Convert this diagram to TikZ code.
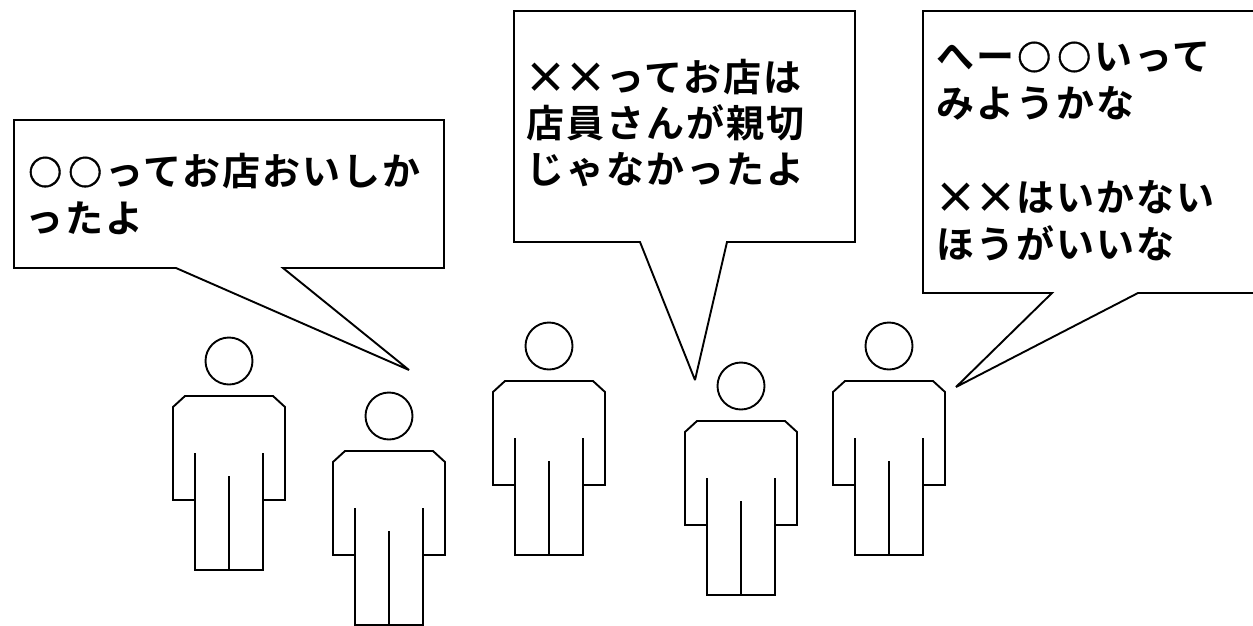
\documentclass[tikz,border=0pt]{standalone}
\usepackage{fontspec}
\setmainfont[BoldFont={Noto Sans CJK JP Bold},LetterSpace=5.3]{Noto Sans CJK JP}
\newfontfamily\markfont[FakeBold=1.2]{Noto Sans CJK JP}
\newcommand{\wideglyph}[1]{\makebox[40pt][c]{\raisebox{-2pt}{\fontsize{43pt}{36pt}\selectfont #1}}}
\newcommand{\ringglyph}{\makebox[40pt][c]{\raisebox{0.5pt}{\markfont\fontsize{34pt}{36pt}\selectfont ○}}}
\tikzset{
  outline/.style={draw=black,line width=1.9pt,line join=miter,miter limit=3,fill=white},
  stroke/.style={draw=black,line width=1.9pt},
  bubbletext/.style={anchor=west,inner sep=0pt,font=\fontsize{38pt}{38pt}\selectfont\bfseries},
  person/.pic={
    \draw[stroke] (0,-35) circle (23.5);
    \draw[outline,fill=none] (-44,0) -- (44,0) -- (56,11) -- (56,104) -- (34,104) -- (34,174) -- (-34,174) -- (-34,104) -- (-56,104) -- (-56,11) -- cycle;
    \draw[stroke] (-34,57) -- (-34,104) (34,57) -- (34,104) (0,80) -- (0,174);
  }
}
\begin{document}
\begin{tikzpicture}[x=1pt,y=-1pt]
\useasboundingbox (0,0) rectangle (1253,625);
\clip (0,0) rectangle (1253,625);
\fill[white] (0,0) rectangle (1253,625);
% bubbles
\draw[outline] (14,120) -- (444,120) -- (444,268) -- (283,268) -- (409,370) -- (176,268) -- (14,268) -- cycle;
\draw[outline] (514,11) -- (855,11) -- (855,242) -- (727,242) -- (695,380) -- (640,242) -- (514,242) -- cycle;
\draw[outline] (923,11) -- (1255,11) -- (1255,293) -- (1138,293) -- (956,387) -- (1052,293) -- (923,293) -- cycle;
% text
\node[bubbletext] (a1) at (25,171) {\ringglyph\ringglyph ってお店おいしか};
\node[bubbletext] (a2) at (25,218) {ったよ};
\node[bubbletext] (b1) at (526,77) {\wideglyph{×}\wideglyph{×}ってお店は};
\node[bubbletext] (b2) at (526,123) {店員さんが親切};
\node[bubbletext] (b3) at (526,170) {じゃなかったよ};
\node[bubbletext] (c1) at (936,57) {へー\ringglyph\ringglyph いって};
\node[bubbletext] (c2) at (936,103) {みようかな};
\node[bubbletext] (c3) at (936,197) {\wideglyph{×}\wideglyph{×}はいかない};
\node[bubbletext] (c4) at (936,243) {ほうがいいな};
% people
\pic at (229,396) {person};
\pic at (389,451) {person};
\pic at (549,381) {person};
\pic at (741,421) {person};
\pic at (889,381) {person};
\end{tikzpicture}
\end{document}
